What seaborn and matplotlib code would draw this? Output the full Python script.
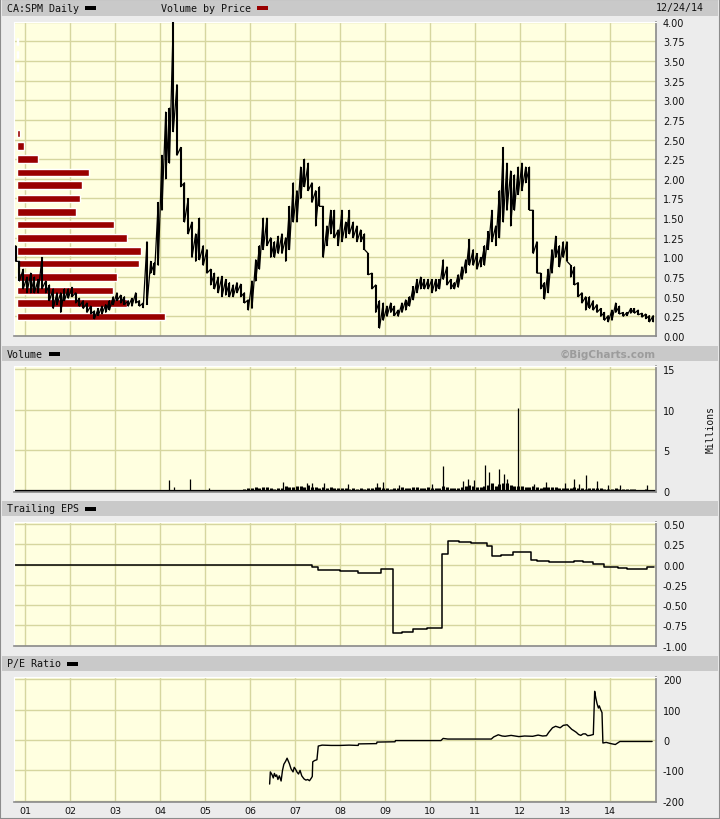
"""
CA:SPM daily chart, BigCharts style: price with volume-by-price,
volume, trailing EPS and P/E ratio panels.
"""

import numpy as np
import pandas as pd
import matplotlib
matplotlib.use('Agg')
import matplotlib.pyplot as plt
from matplotlib.patches import Rectangle
import seaborn as sns

# ---------------------------------------------------------------
# Data (decimal years on the x axis)
# ---------------------------------------------------------------
# monthly high / low of the daily price, Oct 2000 .. Dec 2014
price_high = [
    1.15, 0.95, 0.85,
    0.75, 0.80, 0.75, 0.72, 1.00, 0.70, 0.65, 0.60, 0.55, 0.55, 0.60, 0.60,
    0.62, 0.55, 0.48, 0.45, 0.42, 0.38, 0.32, 0.35, 0.38, 0.40, 0.45, 0.50,
    0.55, 0.52, 0.50, 0.45, 0.48, 0.55, 0.45, 0.42, 1.20, 0.95, 0.93, 1.70,
    2.30, 2.85, 2.90, 4.00, 3.20, 2.40, 1.95, 1.75, 1.45, 1.30, 1.50, 1.15,
    1.10, 0.85, 0.80, 0.75, 0.76, 0.72, 0.68, 0.65, 0.68, 0.66, 0.55, 0.46,
    0.70, 0.97, 1.15, 1.50, 1.50, 1.25, 1.20, 1.27, 1.30, 1.25, 1.65, 1.95,
    1.85, 2.15, 2.25, 2.20, 1.95, 1.85, 1.90, 1.65, 1.40, 1.60, 1.60, 1.35,
    1.60, 1.45, 1.60, 1.45, 1.40, 1.35, 1.30, 1.05, 0.80, 0.65, 0.45, 0.42,
    0.38, 0.42, 0.38, 0.33, 0.42, 0.46, 0.50, 0.63, 0.72, 0.75, 0.72, 0.72,
    0.72, 0.72, 0.72, 0.97, 0.88, 0.72, 0.68, 0.78, 0.88, 0.97, 1.23, 1.10,
    1.05, 1.00, 1.15, 1.33, 1.60, 1.40, 1.85, 2.40, 2.20, 2.10, 2.05, 2.15,
    2.20, 2.15, 2.15, 1.60, 1.20, 0.80, 0.68, 0.85, 1.10, 1.27, 1.15, 1.20,
    1.20, 0.90, 0.88, 0.68, 0.55, 0.50, 0.50, 0.45, 0.40, 0.35, 0.30, 0.26,
    0.33, 0.42, 0.38, 0.30, 0.30, 0.35, 0.35, 0.33, 0.29, 0.28, 0.26, 0.26,
]
price_low = [
    0.95, 0.70, 0.60,
    0.55, 0.55, 0.55, 0.55, 0.60, 0.55, 0.45, 0.35, 0.40, 0.30, 0.45, 0.48,
    0.50, 0.42, 0.38, 0.35, 0.30, 0.28, 0.22, 0.26, 0.28, 0.30, 0.33, 0.40,
    0.45, 0.42, 0.40, 0.38, 0.38, 0.42, 0.38, 0.36, 0.40, 0.80, 0.78, 0.90,
    1.60, 2.00, 2.20, 2.60, 2.30, 1.90, 1.45, 1.30, 1.00, 0.95, 0.97, 0.90,
    0.80, 0.65, 0.60, 0.55, 0.50, 0.52, 0.50, 0.50, 0.55, 0.50, 0.42, 0.33,
    0.35, 0.70, 0.85, 1.10, 1.15, 1.00, 1.00, 1.05, 1.05, 0.95, 1.10, 1.45,
    1.45, 1.75, 1.90, 1.85, 1.70, 1.40, 1.65, 1.00, 1.15, 1.30, 1.25, 1.15,
    1.20, 1.25, 1.30, 1.25, 1.20, 1.20, 1.10, 0.78, 0.60, 0.30, 0.10, 0.20,
    0.25, 0.30, 0.26, 0.25, 0.30, 0.33, 0.38, 0.46, 0.55, 0.60, 0.60, 0.60,
    0.55, 0.57, 0.60, 0.72, 0.65, 0.60, 0.60, 0.62, 0.72, 0.80, 0.90, 0.90,
    0.85, 0.88, 0.90, 1.10, 1.20, 1.15, 1.25, 1.45, 1.60, 1.40, 1.60, 1.80,
    1.85, 1.95, 1.60, 1.05, 0.80, 0.60, 0.47, 0.55, 0.80, 1.00, 0.88, 1.00,
    0.95, 0.75, 0.65, 0.50, 0.42, 0.33, 0.35, 0.33, 0.30, 0.25, 0.20, 0.18,
    0.20, 0.30, 0.28, 0.25, 0.26, 0.29, 0.29, 0.27, 0.24, 0.22, 0.18, 0.18,
]
price_month = [2000 + (9 + i + 0.5) / 12 for i in range(len(price_high))]

# volume by price: bin centre (price) and relative volume
vbp_price = [0.25, 0.42, 0.58, 0.75, 0.92, 1.08, 1.25, 1.42, 1.58, 1.75,
             1.92, 2.08, 2.25, 2.42, 2.58, 3.42, 3.58, 3.75]
vbp_volume = [148, 110, 96, 100, 122, 124, 110, 97, 59, 63,
              65, 72, 21, 7, 3.3, 1.2, 1.2, 1.2]

# monthly base volume (millions), Nov 2005 .. Dec 2014
volume_base = [
    0.25, 0.35,
    0.30, 0.45, 0.35, 0.50, 0.40, 0.30, 0.25, 0.30, 0.35, 0.60, 0.50, 0.45,
    0.55, 0.60, 0.50, 0.65, 0.40, 0.45, 0.35, 0.50, 0.30, 0.40, 0.35, 0.30,
    0.30, 0.35, 0.25, 0.30, 0.20, 0.30, 0.25, 0.35, 0.30, 0.45, 0.50, 0.30,
    0.30, 0.25, 0.35, 0.30, 0.40, 0.35, 0.30, 0.40, 0.45, 0.35, 0.30, 0.40,
    0.30, 0.35, 0.30, 0.60, 0.50, 0.35, 0.30, 0.35, 0.45, 0.60, 0.70, 0.55,
    0.45, 0.40, 0.60, 0.70, 0.90, 0.60, 0.80, 1.00, 0.90, 0.70, 0.60, 0.55,
    0.60, 0.50, 0.45, 0.55, 0.50, 0.35, 0.40, 0.45, 0.40, 0.50, 0.35, 0.30,
    0.35, 0.30, 0.40, 0.30, 0.35, 0.25, 0.30, 0.35, 0.30, 0.30, 0.25, 0.20,
    0.20, 0.35, 0.25, 0.20, 0.20, 0.25, 0.20, 0.15, 0.15, 0.20, 0.15, 0.15,
]
volume_month = [2005 + (10 + i + 0.5) / 12 for i in range(len(volume_base))]

# single heavy volume days (millions)
spike_date = [2004.20, 2004.30, 2004.66, 2005.09, 2006.73, 2007.27, 2007.38,
              2007.64, 2008.17, 2008.82, 2008.96, 2009.30, 2010.04, 2010.29,
              2010.73, 2010.84, 2010.98, 2011.22, 2011.31, 2011.54, 2011.64,
              2011.71, 2011.96, 2012.30, 2012.58, 2012.99, 2013.20, 2013.32,
              2013.47, 2013.71, 2013.96, 2014.22, 2014.82]
spike_volume = [1.35, 0.4, 1.5, 0.3, 1.05, 0.9, 1.0,
                1.0, 0.85, 1.0, 1.1, 0.75, 0.85, 3.0,
                1.25, 1.4, 1.35, 3.2, 2.3, 2.7, 2.0,
                1.4, 10.2, 0.8, 1.05, 1.0, 1.4, 0.85,
                1.9, 1.25, 0.75, 0.7, 0.75]

# trailing EPS, step changes
eps_date = [2000.76, 2006.41, 2007.38, 2007.51, 2008.00, 2008.40, 2008.91,
            2009.17, 2009.37, 2009.62, 2009.93, 2010.26, 2010.39, 2010.64,
            2010.90, 2011.26, 2011.38, 2011.58, 2011.84, 2012.24, 2012.38,
            2012.64, 2013.20, 2013.40, 2013.62, 2013.87, 2014.17, 2014.37,
            2014.58, 2014.82, 2014.98]
eps_value = [0.00, -0.01, -0.03, -0.07, -0.08, -0.10, -0.06,
             -0.84, -0.83, -0.80, -0.78, 0.13, 0.29, 0.28,
             0.26, 0.23, 0.10, 0.12, 0.16, 0.06, 0.05,
             0.03, 0.04, 0.03, 0.01, -0.03, -0.04, -0.06,
             -0.05, -0.03, -0.03]

# P/E ratio
pe_date = [2006.434, 2006.45, 2006.49, 2006.515, 2006.54, 2006.567, 2006.59,
           2006.618, 2006.65, 2006.689, 2006.72, 2006.75, 2006.79, 2006.822,
           2006.85, 2006.873, 2006.91, 2006.954, 2006.98, 2007.005, 2007.04,
           2007.076, 2007.11, 2007.148, 2007.198, 2007.24, 2007.28, 2007.32,
           2007.362, 2007.382, 2007.392, 2007.43, 2007.485, 2007.515, 2007.6,
           2007.8, 2008.0, 2008.2, 2008.402, 2008.41, 2008.811, 2008.82,
           2009.22, 2009.23, 2010.24, 2010.29, 2010.393, 2011.36, 2011.413,
           2011.515, 2011.6, 2011.667, 2011.8, 2011.974, 2012.1, 2012.28,
           2012.4, 2012.5, 2012.586, 2012.637, 2012.72, 2012.79, 2012.89,
           2012.96, 2013.045, 2013.1, 2013.147, 2013.2, 2013.249, 2013.3,
           2013.35, 2013.4, 2013.453, 2013.5, 2013.556, 2013.627, 2013.657,
           2013.68, 2013.709, 2013.74, 2013.76, 2013.79, 2013.82, 2013.84,
           2013.914, 2014.015, 2014.116, 2014.218, 2014.933]
pe_value = [-145, -105, -115, -125, -110, -120, -115,
            -130, -118, -135, -100, -80, -70, -60,
            -70, -78, -95, -105, -90, -95, -105,
            -112, -100, -118, -128, -132, -130, -134,
            -125, -120, -72, -68, -65, -20, -17,
            -18, -18, -17, -18, -13, -12, -7,
            -6, -2, -2, 5, 3, 3, 10,
            17, 13, 12, 15, 11, 13, 12,
            16, 13, 14, 25, 40, 45, 40,
            48, 50, 42, 35, 30, 25, 18,
            15, 20, 20, 14, 15, 18, 160,
            140, 120, 105, 112, 100, 90, -10,
            -8, -12, -15, -5, -5]

years = list(range(2001, 2015))
year_labels = [f"{y % 100:02d}" for y in years]

# ---------------------------------------------------------------
# Style
# ---------------------------------------------------------------
PAGE_BG = '#ececec'
HEADER_BG = '#c9c9c9'
PLOT_BG = '#ffffe0'
GRID = '#d6d69f'
VBP_RED = '#990000'
MONO = 'DejaVu Sans Mono'

sns.set_style("white")
plt.rcParams['font.family'] = ['DejaVu Sans']
plt.rcParams['axes.unicode_minus'] = False

W, H = 720, 820
X0, X1 = 2000.76, 2015.02


def fig_box(x0, y0, x1, y1):
    """pixel box (top-left origin) -> figure fraction rect"""
    return [x0 / W, 1 - y1 / H, (x1 - x0) / W, (y1 - y0) / H]


def add_rect(fig, x0, y0, x1, y1, color):
    fig.add_artist(Rectangle((x0 / W, 1 - y1 / H), (x1 - x0) / W, (y1 - y0) / H,
                             transform=fig.transFigure, facecolor=color,
                             edgecolor='none'))


def add_label(fig, x, yc, text, swatch=None):
    fig.text(x / W, 1 - yc / H, text, family=MONO, fontsize=7.2,
             ha='left', va='center', color='#111111')
    if swatch:
        sx = x + len(text) * 6.0 + 6
        add_rect(fig, sx, yc - 2, sx + 11, yc + 2, swatch)


def add_header(fig, y0, y1, text):
    add_rect(fig, 2, y0, 718, y1, HEADER_BG)
    add_label(fig, 7, (y0 + y1) / 2, text, 'black')


def style_axes(ax, ylim, yticks, fmt):
    ax.set_facecolor(PLOT_BG)
    ax.set_xlim(X0, X1)
    ax.set_ylim(*ylim)
    ax.set_xticks(years)
    ax.set_xticklabels([])
    ax.set_yticks(yticks)
    ax.set_yticklabels([fmt.format(v) for v in yticks])
    ax.yaxis.tick_right()
    ax.grid(True, color=GRID, lw=1)
    ax.set_axisbelow(True)
    ax.tick_params(length=0, labelsize=7, pad=5, colors='#111111')
    ax.set_xlabel('')
    ax.set_ylabel('')
    for side in ('left', 'top'):
        ax.spines[side].set_color('#ffffff')
    for side in ('right', 'bottom'):
        ax.spines[side].set_color('#8a8a8a')
        ax.spines[side].set_linewidth(1.2)


fig = plt.figure(figsize=(W / 100, H / 100), dpi=100, facecolor=PAGE_BG)

# ---------------------------------------------------------------
# Price panel with volume by price
# ---------------------------------------------------------------
add_rect(fig, 2, 0, 718, 17, HEADER_BG)
add_label(fig, 7, 8.5, 'CA:SPM Daily', 'black')
add_label(fig, 161, 8.5, 'Volume by Price', VBP_RED)
fig.text(704 / W, 1 - 8.5 / H, '12/24/14', family=MONO, fontsize=7.2,
         ha='right', va='center', color='#111111')

ax_p = fig.add_axes(fig_box(14.3, 22.7, 656, 337))
style_axes(ax_p, (0, 4.0), np.arange(0, 4.01, 0.25), '{:.2f}')

# longest volume-by-price bar reaches about 23% of the panel width
vbp_scale = (X1 - X0) * 0.231 / max(vbp_volume)
ax_p.barh(vbp_price, [v * vbp_scale for v in vbp_volume], left=X0 + 0.05,
          height=0.095, color=VBP_RED, zorder=2)

# daily range look: monthly high-low bars joined by a jagged line
ax_p.vlines(price_month, price_low, price_high, color='black', lw=1.5, zorder=3)
zig_x = np.repeat(price_month, 2)
zig_y = np.column_stack([price_high, price_low]).ravel()
sns.lineplot(x=zig_x, y=zig_y, ax=ax_p, color='black', lw=0.9,
             estimator=None, sort=False, zorder=4)
ax_p.set_xlim(X0, X1)
ax_p.set_ylim(0, 4.0)

# ---------------------------------------------------------------
# Volume panel
# ---------------------------------------------------------------
add_header(fig, 347, 362, 'Volume')
fig.text(656 / W, 1 - 354.5 / H, '\u00a9BigCharts.com', fontsize=7.5,
         fontweight='bold', color='#9c9c9c', ha='right', va='center')

ax_v = fig.add_axes(fig_box(14.3, 367, 656, 492.7))
style_axes(ax_v, (-0.12, 15.37), [0, 5, 10, 15], '{:d}')
ax_v.vlines(volume_month, 0, volume_base, color='black', lw=2.2)
ax_v.vlines(spike_date, 0, spike_volume, color='black', lw=0.9)
ax_v.axhline(0, color='black', lw=1.6)
fig.text(711 / W, 1 - 430 / H, 'Millions', family=MONO, fontsize=7,
         rotation=90, ha='center', va='center', color='#111111')

# ---------------------------------------------------------------
# Trailing EPS panel
# ---------------------------------------------------------------
add_header(fig, 502, 517, 'Trailing EPS')
ax_e = fig.add_axes(fig_box(14.3, 522.7, 656, 647.3))
style_axes(ax_e, (-1.007, 0.528), np.arange(-1.0, 0.51, 0.25), '{:.2f}')
sns.lineplot(x=eps_date, y=eps_value, ax=ax_e, color='black', lw=1.1,
             drawstyle='steps-post', estimator=None, sort=False)
ax_e.set_xlim(X0, X1)
ax_e.set_ylim(-1.007, 0.528)

# ---------------------------------------------------------------
# P/E ratio panel
# ---------------------------------------------------------------
add_header(fig, 657, 672, 'P/E Ratio')
ax_pe = fig.add_axes(fig_box(14.3, 678, 656, 803))
style_axes(ax_pe, (-204, 207), [-200, -100, 0, 100, 200], '{:d}')
sns.lineplot(x=pe_date, y=pe_value, ax=ax_pe, color='black', lw=1.0,
             estimator=None, sort=False)
ax_pe.set_xlim(X0, X1)
ax_pe.set_ylim(-204, 207)
ax_pe.set_xticklabels(year_labels)
ax_pe.tick_params(axis='x', labelsize=6.8, pad=3)

for ax in (ax_p, ax_v, ax_e, ax_pe):
    ax.set_xlabel('')
    ax.set_ylabel('')
    leg = ax.get_legend()
    if leg:
        leg.remove()

# thin outer frame
fig.add_artist(Rectangle((0, 0), 1, 1, transform=fig.transFigure,
                         facecolor='none', edgecolor='#8c8c8c', lw=1.5))

fig.savefig('out.png', dpi=100, facecolor=fig.get_facecolor())
